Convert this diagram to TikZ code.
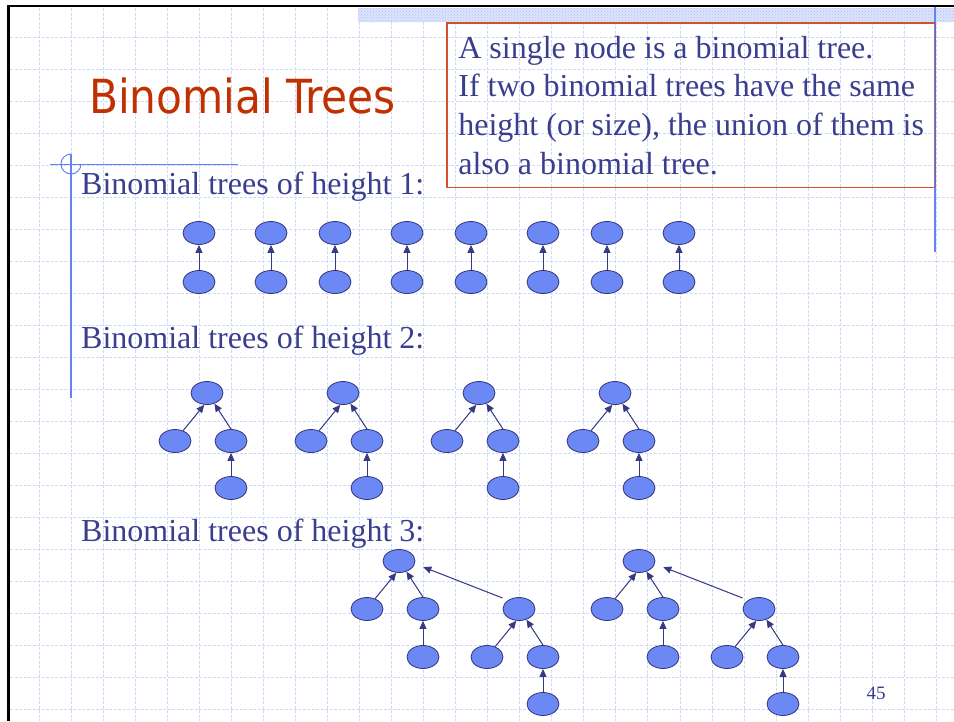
\documentclass[tikz,border=0pt]{standalone}
\usepackage{fontspec}
\setmainfont{Liberation Serif}
\newfontfamily\titlefont{DejaVu Sans Condensed}
\usetikzlibrary{arrows.meta,shapes.geometric,patterns}
\definecolor{txtblue}{RGB}{58,62,142}
\definecolor{titlered}{RGB}{192,48,0}
\definecolor{nodefill}{RGB}{108,136,245}
\definecolor{nodeline}{RGB}{50,52,120}
\definecolor{edgecol}{RGB}{55,58,130}
\definecolor{gridblue}{RGB}{208,217,248}
\definecolor{decoblue}{RGB}{100,130,245}
\definecolor{boxred}{RGB}{210,80,45}
\definecolor{boxedge}{RGB}{160,85,110}
\definecolor{bandblue}{RGB}{175,192,248}
\definecolor{bandpale}{RGB}{220,228,252}

\begin{document}
\begin{tikzpicture}[x=1pt, y=-1pt, >={Triangle[length=8pt,width=7pt]},
  bnode/.style={ellipse, draw=nodeline, fill=nodefill, line width=0.8pt,
    minimum width=32pt, minimum height=23pt, inner sep=0pt},
  link/.style={->, draw=edgecol, fill=edgecol, line width=1pt},
  heading/.style={anchor=base west, inner sep=0pt, text=txtblue,
    font=\fontsize{32}{38}\selectfont},
  gridline/.style={draw=gridblue, line width=0.6pt, dash pattern=on 3pt off 1.5pt}]
  \useasboundingbox (0,0) rectangle (954,721);
  \fill[white] (0,0) rectangle (954,721);

  % slide background
  \foreach \k in {0,...,28}
    \draw[gridline] ({39+32.04*\k},8) -- ({39+32.04*\k},721);
  \foreach \k in {0,...,21}
    \draw[gridline] (10,{37+32*\k}) -- (954,{37+32*\k});
  \fill[bandpale] (358,8) rectangle (954,22);
  \fill[pattern=crosshatch dots, pattern color=bandblue] (358,8) rectangle (954,22);
  \draw[line width=2.4pt] (7,6) -- (954,6);
  \draw[line width=2.4pt] (8.5,5) -- (8.5,721);
  \draw[decoblue, line width=1pt] (50,164) -- (238,164);
  \draw[decoblue, line width=1pt] (81,164) arc (0:270:10);
  \draw[decoblue, line width=2.5pt] (71,154) -- (71,398);
  \draw[decoblue, line width=2.5pt] (935,7) -- (935,252);

  % title and remark
  \node[anchor=base west, inner sep=0pt, text=titlered,
    font=\fontsize{47}{56}\titlefont] (title) at (89,113) {Binomial Trees};
  \node[text=txtblue, anchor=north west, minimum width=488pt,
    minimum height=164pt, inner xsep=10pt, inner ysep=0pt,
    align=left, font=\fontsize{32}{38.7}\selectfont] (rule) at (447,23)
    {A single node is a binomial tree.\\
     If two binomial trees have the same\\
     height (or size), the union of them is\\
     also a binomial tree.};
  \draw[boxred, line width=1.4pt] (rule.north east) -- (rule.north west)
    -- (rule.south west) -- (rule.south east);
  \draw[boxedge, line width=1.4pt] (rule.north east) -- (rule.south east);

  % height 1
  \node[heading] (h1) at (81,194) {Binomial trees of height 1:};
  \foreach \x [count=\i] in {199,271,335,407,471,543,607,679} {
    \node[bnode] (t\i) at (\x,233) {};
    \node[bnode] (b\i) at (\x,282) {};
    \draw[link] (b\i) -- (t\i);
  }

  % height 2
  \node[heading] (h2) at (81,348) {Binomial trees of height 2:};
  \foreach \x [count=\i] in {207,343,479,615} {
    \node[bnode] (p\i) at (\x,393) {};
    \node[bnode] (pl\i) at (\x-32,441) {};
    \node[bnode] (pr\i) at (\x+24,441) {};
    \node[bnode] (pg\i) at (\x+24,488) {};
    \draw[link] (pl\i.52) -- (p\i.-103);
    \draw[link] (pr\i.north) -- (p\i.-55);
    \draw[link] (pg\i) -- (pr\i);
  }

  % height 3
  \node[heading] (h3) at (81,541) {Binomial trees of height 3:};
  \foreach \x [count=\i] in {399,639} {
    \node[bnode] (q\i) at (\x,561) {};
    \node[bnode] (qa\i) at (\x-32,609) {};
    \node[bnode] (qb\i) at (\x+24,609) {};
    \node[bnode] (qbg\i) at (\x+24,657) {};
    \node[bnode] (qc\i) at (\x+120,609) {};
    \node[bnode] (qcl\i) at (\x+88,657) {};
    \node[bnode] (qcr\i) at (\x+144,657) {};
    \node[bnode] (qcg\i) at (\x+144,704) {};
    \draw[link] (qa\i.52) -- (q\i.-103);
    \draw[link] (qb\i.north) -- (q\i.-55);
    \draw[link] (qbg\i) -- (qb\i);
    \draw[link, shorten <=6pt, shorten >=9pt] (qc\i.141) -- (q\i.-10);
    \draw[link] (qcl\i.52) -- (qc\i.-103);
    \draw[link] (qcr\i.north) -- (qc\i.-55);
    \draw[link] (qcg\i) -- (qcr\i);
  }

  \node[text=txtblue, font=\fontsize{19}{22}\selectfont] (pnum) at (876,693) {45};
\end{tikzpicture}
\end{document}
